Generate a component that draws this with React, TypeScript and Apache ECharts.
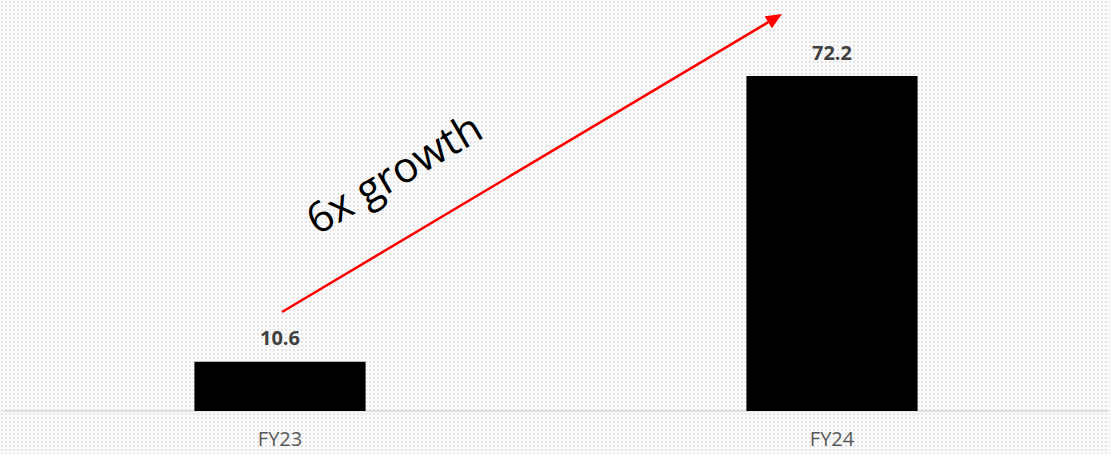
import React, { useEffect, useRef } from "react";
import * as echarts from "echarts";

const categories = ["FY23", "FY24"];
const revenue = [10.6, 72.2];

export default function App() {
  const ref = useRef<HTMLDivElement>(null);
  useEffect(() => {
    if (!ref.current) return;
    const chart = echarts.init(ref.current, undefined, { renderer: "svg" });
    const x1 = 282, y1 = 312, x2 = 782, y2 = 14;
    const ang = Math.atan2(y2 - y1, x2 - x1);
    const L = 16, W = 7;
    const bx = x2 - L * Math.cos(ang), by = y2 - L * Math.sin(ang);
    const px = -Math.sin(ang), py = Math.cos(ang);
    chart.setOption({
      animation: false,
      backgroundColor: "transparent",
      grid: { left: 4, right: 2, top: 0, bottom: 43, containLabel: false },
      xAxis: {
        type: "category",
        data: categories,
        axisLine: { lineStyle: { color: "#d9d9d9", width: 1.5 } },
        axisTick: { show: false },
        axisLabel: { color: "#595959", fontSize: 20, fontFamily: "Open Sans", margin: 17 },
      },
      yAxis: { type: "value", min: 0, max: 88.6, show: false, splitLine: { show: false } },
      series: [
        {
          type: "bar",
          data: revenue,
          barWidth: "31%",
          itemStyle: { color: "#000000" },
          label: {
            show: true,
            position: "top",
            distance: 14,
            color: "#404040",
            fontSize: 20,
            fontWeight: "bold",
            fontFamily: "Open Sans",
            formatter: (p: any) => p.value.toFixed(1),
          },
        },
      ],
      graphic: [
        {
          type: "line",
          shape: { x1, y1, x2: bx, y2: by },
          style: { stroke: "#ff0000", lineWidth: 2.5 },
          z: 10,
        },
        {
          type: "polygon",
          shape: { points: [[x2, y2], [bx + px * W, by + py * W], [bx - px * W, by - py * W]] },
          style: { fill: "#ff0000" },
          z: 10,
        },
        {
          type: "text",
          x: 393,
          y: 172,
          rotation: (30.5 * Math.PI) / 180,
          style: {
            text: "6x growth",
            fontSize: 42,
            fontFamily: "Open Sans",
            fill: "#000000",
            align: "center",
            verticalAlign: "middle",
          },
          z: 10,
        },
      ],
    });
    return () => chart.dispose();
  }, []);
  return (
    <div
      ref={ref}
      style={{
        position: "fixed",
        left: 0,
        top: 0,
        width: 1110,
        height: 454,
        backgroundColor: "#fafafa",
        backgroundImage:
          "radial-gradient(circle, #e4e4e4 1px, transparent 1.3px)",
        backgroundSize: "4px 4px",
      }}
    />
  );
}
